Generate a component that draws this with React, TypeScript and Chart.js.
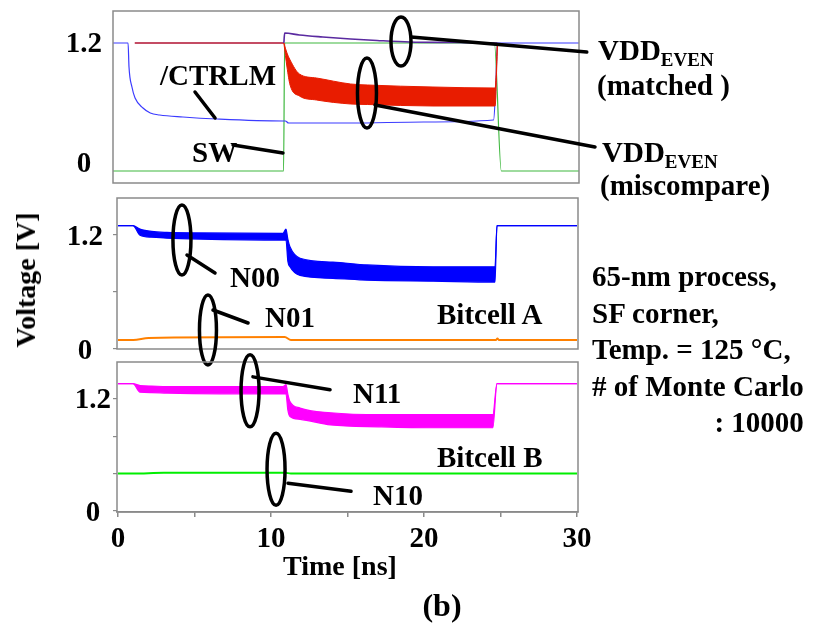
import React, { useEffect, useRef } from 'react';
import { Chart, registerables } from 'chart.js';

Chart.register(...registerables);

const FONT = "'Liberation Serif', 'Times New Roman', serif";

// ---------------- Data (time in ns, voltage in V) ----------------
// Top panel
const ctrlmT = [0, 0.97, 1.03, 1.22, 1.42, 1.93, 2.4, 3.0, 4.5, 6.7, 10.95, 11.1, 11.3, 15.3, 20, 24.5, 24.65, 24.75, 30];
const ctrlmV = [1.2, 1.2, 0.96, 0.76, 0.65, 0.55, 0.5, 0.48, 0.46, 0.44, 0.42, 0.42, 0.4, 0.4, 0.41, 0.43, 0.8, 1.2, 1.2];
const swT = [0, 10.98, 11.05, 24.55, 25.0, 30];
const swV = [-0.08, -0.08, 1.2, 1.2, -0.08, -0.08];
const matchedPreT = [1.4, 11.0];
const matchedPreV = [1.2, 1.2];
const matchedT = [11.0, 11.05, 12.0, 13.5, 15.3, 17.0, 19.1, 22.0, 24.5, 24.75];
const matchedV = [1.2, 1.3, 1.28, 1.26, 1.24, 1.225, 1.21, 1.205, 1.2, 1.2];
const missT = [11.0, 11.2, 11.4, 12.0, 13.1, 15.3, 16.4, 20.6, 24.6, 24.75];
const missUpV = [1.2, 1.1, 1.03, 0.89, 0.85, 0.79, 0.78, 0.76, 0.75, 1.2];
const missLoV = [1.2, 0.96, 0.78, 0.67, 0.63, 0.59, 0.585, 0.57, 0.57, 1.2];

// Middle panel (Bitcell A)
const n00T = [0, 0.98, 1.44, 2.2, 3.2, 5.36, 10.78, 10.98, 11.1, 11.24, 11.9, 14.05, 16.27, 20.6, 24.64, 24.77, 30];
const n00UpV = [1.29, 1.29, 1.255, 1.23, 1.22, 1.215, 1.21, 1.255, 1.15, 1.07, 0.95, 0.91, 0.88, 0.86, 0.86, 1.29, 1.29];
const n00LoV = [1.29, 1.29, 1.19, 1.17, 1.16, 1.15, 1.14, 1.14, 0.92, 0.86, 0.77, 0.74, 0.72, 0.71, 0.7, 1.29, 1.29];
const n01T = [0, 1.0, 2.0, 10.9, 11.3, 24.7, 24.8, 24.9, 30];
const n01V = [0.094, 0.094, 0.115, 0.125, 0.094, 0.094, 0.11, 0.094, 0.094];

// Bottom panel (Bitcell B)
const n11T = [0, 0.98, 1.44, 2.2, 3.2, 10.78, 10.98, 11.1, 11.24, 11.9, 13.9, 17.2, 20.6, 24.5, 24.77, 30];
const n11UpV = [1.36, 1.36, 1.34, 1.335, 1.33, 1.33, 1.35, 1.25, 1.17, 1.1, 1.05, 1.03, 1.03, 1.03, 1.36, 1.36];
const n11LoV = [1.36, 1.36, 1.27, 1.265, 1.26, 1.25, 1.25, 1.08, 1.01, 0.98, 0.92, 0.9, 0.89, 0.89, 1.36, 1.36];
const n10T = [0, 1.0, 3.0, 10.9, 11.3, 30];
const n10V = [0.4, 0.4, 0.41, 0.41, 0.4, 0.4];

// Axis ticks
const xTicks = [0, 5, 10, 15, 20, 25, 30];
const xLabeled = [0, 10, 20, 30];
const topYTicks = [0, 1.2];
const midYTicks = [0, 0.6, 1.2];
const botYTicks = [0, 0.4, 0.8, 1.2];
const yLabeled = [0, 1.2];

// Annotation anchors (data coordinates of each panel)
const topEllipses = [
  { t: 18.54, v: 1.215, rx: 10, ry: 24.5 },
  { t: 16.35, v: 0.7, rx: 9.5, ry: 35 },
];
const topLeaders = [
  [19.19, 1.26, 30.5, 1.11],
  [16.87, 0.58, 31.03, 0.16],
  [5.28, 0.71, 6.57, 0.45],
  [7.73, 0.18, 10.94, 0.1],
];
const midEllipses = [
  { t: 4.18, v: 1.14, rx: 9, ry: 35 },
  { t: 5.88, v: 0.2, rx: 8.5, ry: 35 },
];
const midLeaders = [
  [4.51, 0.983, 6.34, 0.795],
  [6.21, 0.408, 8.5, 0.272],
];
const botEllipses = [
  { t: 8.63, v: 1.284, rx: 9, ry: 36 },
  { t: 10.33, v: 0.446, rx: 9, ry: 36 },
];
const botLeaders = [
  [8.82, 1.433, 13.86, 1.295],
  [11.11, 0.297, 15.23, 0.212],
];

const pts = (t: number[], v: number[]) => t.map((x, i) => ({ x, y: v[i] }));

const line = (t: number[], v: number[], color: string, width = 1.2, extra: any = {}) => ({
  data: pts(t, v),
  borderColor: color,
  backgroundColor: color,
  borderWidth: width,
  pointRadius: 0,
  cubicInterpolationMode: 'monotone',
  fill: false,
  ...extra,
});

type PanelDef = {
  area: { l: number; t: number; r: number; b: number };
  xMin: number; xMax: number; yMin: number; yMax: number;
  yTicks: number[]; yTickLen: number; yPad: number; yLabelOffset: number;
  showX: boolean;
  datasets: any[];
  ellipses: { t: number; v: number; rx: number; ry: number }[];
  leaders: number[][];
};

const W = 820;
const H = 631;
const Y_AXIS_W = 70;
const X_AXIS_H = 45;

function PanelChart({ def }: { def: PanelDef }) {
  const ref = useRef<HTMLCanvasElement | null>(null);
  useEffect(() => {
    if (!ref.current) return;
    const d = def;
    const deco = {
      id: 'deco',
      afterDatasetsDraw(chart: any) {
        const { ctx, chartArea } = chart;
        const xs = chart.scales.x;
        const ys = chart.scales.y;
        ctx.save();
        ctx.strokeStyle = '#8a8a8a';
        ctx.lineWidth = 1.5;
        ctx.strokeRect(chartArea.left, chartArea.top, chartArea.right - chartArea.left, chartArea.bottom - chartArea.top);
        ctx.strokeStyle = '#000';
        ctx.lineWidth = 3.5;
        ctx.lineCap = 'round';
        d.ellipses.forEach((e) => {
          ctx.beginPath();
          ctx.ellipse(xs.getPixelForValue(e.t), ys.getPixelForValue(e.v), e.rx, e.ry, 0, 0, Math.PI * 2);
          ctx.stroke();
        });
        d.leaders.forEach((l) => {
          ctx.beginPath();
          ctx.moveTo(xs.getPixelForValue(l[0]), ys.getPixelForValue(l[1]));
          ctx.lineTo(xs.getPixelForValue(l[2]), ys.getPixelForValue(l[3]));
          ctx.stroke();
        });
        ctx.restore();
      },
    };
    const xH = d.showX ? X_AXIS_H : 0;
    const chart = new Chart(ref.current, {
      type: 'line',
      data: { datasets: d.datasets },
      options: {
        responsive: false,
        animation: false,
        devicePixelRatio: 1,
        layout: {
          padding: {
            left: d.area.l - Y_AXIS_W,
            right: W - d.area.r,
            top: d.area.t,
            bottom: H - d.area.b - xH,
          },
        },
        plugins: { legend: { display: false }, tooltip: { enabled: false }, title: { display: false } },
        scales: {
          x: {
            type: 'linear',
            display: d.showX,
            min: d.xMin,
            max: d.xMax,
            afterBuildTicks: (s: any) => { s.ticks = xTicks.map((value) => ({ value })); },
            afterFit: (s: any) => {
              s.height = d.showX ? X_AXIS_H : 0;
              s.paddingLeft = 0;
              s.paddingRight = 0;
            },
            grid: { drawOnChartArea: false, drawTicks: true, tickLength: 5, color: '#8a8a8a', lineWidth: 1.5 },
            border: { display: true, color: '#8a8a8a', width: 1.5 },
            ticks: {
              autoSkip: false,
              maxRotation: 0,
              padding: 5,
              color: '#000',
              font: { family: FONT, size: 29, weight: 'bold' },
              callback: (v: any) => (xLabeled.includes(Number(v)) ? String(v) : ''),
            },
          },
          y: {
            type: 'linear',
            min: d.yMin,
            max: d.yMax,
            afterBuildTicks: (s: any) => { s.ticks = d.yTicks.map((value) => ({ value })); },
            afterFit: (s: any) => {
              s.width = Y_AXIS_W;
              s.paddingTop = 0;
              s.paddingBottom = 0;
            },
            grid: {
              display: d.yTickLen > 0,
              drawOnChartArea: false,
              drawTicks: d.yTickLen > 0,
              tickLength: d.yTickLen,
              color: '#8a8a8a',
              lineWidth: 1.2,
            },
            border: { display: false },
            ticks: {
              padding: d.yPad,
              crossAlign: 'center',
              labelOffset: d.yLabelOffset,
              color: '#000',
              font: { family: FONT, size: 29, weight: 'bold' },
              callback: (v: any) => {
                const n = Number(v);
                if (yLabeled.some((q) => Math.abs(q - n) < 1e-6)) return n === 0 ? '0' : n.toFixed(1);
                return '';
              },
            },
          },
        },
      } as any,
      plugins: [deco],
    });
    return () => chart.destroy();
  }, [def]);
  return (
    <canvas
      ref={ref}
      width={W}
      height={H}
      style={{ position: 'absolute', left: 0, top: 0, width: W, height: H }}
    />
  );
}

const topDef: PanelDef = {
  area: { l: 113, t: 11, r: 579, b: 183 },
  xMin: 0, xMax: 30, yMin: -0.2, yMax: 1.52,
  yTicks: topYTicks, yTickLen: 0, yPad: 11, yLabelOffset: 2,
  showX: false,
  datasets: [
    line(missT, missUpV, '#e81c00', 1, { fill: '+1', backgroundColor: '#e81c00' }),
    line(missT, missLoV, '#e81c00', 1),
    line(ctrlmT, ctrlmV, '#3b3bff', 1.2),
    line(matchedT, matchedV, '#5a2aa0', 1.6),
    line(matchedPreT, matchedPreV, '#b01030', 1.4),
    line(swT, swV, '#3fb83f', 1.2),
  ],
  ellipses: topEllipses,
  leaders: topLeaders,
};

const midDef: PanelDef = {
  area: { l: 117, t: 198, r: 578, b: 349 },
  xMin: -0.065, xMax: 30.065, yMin: 0, yMax: 1.58,
  yTicks: midYTicks, yTickLen: 4, yPad: 10, yLabelOffset: 3,
  showX: false,
  datasets: [
    line(n00T, n00UpV, '#0000ff', 1.2, { fill: '+1', backgroundColor: '#0000ff' }),
    line(n00T, n00LoV, '#0000ff', 1.2),
    line(n01T, n01V, '#ff8000', 2),
  ],
  ellipses: midEllipses,
  leaders: midLeaders,
};

const botDef: PanelDef = {
  area: { l: 117, t: 362, r: 578, b: 512 },
  xMin: -0.065, xMax: 30.065, yMin: -0.01, yMax: 1.592,
  yTicks: botYTicks, yTickLen: 4, yPad: 2, yLabelOffset: 2,
  showX: true,
  datasets: [
    line(n11T, n11UpV, '#ff00ff', 1.2, { fill: '+1', backgroundColor: '#ff00ff' }),
    line(n11T, n11LoV, '#ff00ff', 1.2),
    line(n10T, n10V, '#00ee00', 2),
  ],
  ellipses: botEllipses,
  leaders: botLeaders,
};

function Txt({ x, cy, size = 29, children, style }: { x: number; cy: number; size?: number; children: any; style?: any }) {
  return (
    <div
      style={{
        position: 'absolute',
        left: x,
        top: cy - size / 2,
        fontFamily: FONT,
        fontWeight: 'bold',
        fontSize: size,
        lineHeight: `${size}px`,
        whiteSpace: 'nowrap',
        color: '#000',
        ...style,
      }}
    >
      {children}
    </div>
  );
}

const sub = { fontSize: 19, position: 'relative' as const, top: 6 };

export default function App() {
  return (
    <div style={{ position: 'absolute', left: 0, top: 0, width: W, height: H, background: '#fff', overflow: 'hidden' }}>
      <PanelChart def={topDef} />
      <PanelChart def={midDef} />
      <PanelChart def={botDef} />

      <Txt x={160} cy={75}>/CTRLM</Txt>
      <Txt x={192} cy={152}>SW</Txt>
      <Txt x={598} cy={50}>VDD<span style={sub}>EVEN</span></Txt>
      <Txt x={597} cy={85}>(matched )</Txt>
      <Txt x={602} cy={152}>VDD<span style={sub}>EVEN</span></Txt>
      <Txt x={600} cy={185}>(miscompare)</Txt>

      <Txt x={230} cy={277}>N00</Txt>
      <Txt x={265} cy={317}>N01</Txt>
      <Txt x={437} cy={314}>Bitcell A</Txt>
      <Txt x={353} cy={393}>N11</Txt>
      <Txt x={437} cy={457}>Bitcell B</Txt>
      <Txt x={373} cy={495}>N10</Txt>

      <div
        style={{
          position: 'absolute',
          left: 592,
          top: 276 - 18,
          fontFamily: FONT,
          fontWeight: 'bold',
          fontSize: 29,
          lineHeight: '36.6px',
          whiteSpace: 'nowrap',
          color: '#000',
        }}
      >
        <div>65-nm process,</div>
        <div>SF corner,</div>
        <div>Temp. = 125 °C,</div>
        <div># of Monte Carlo</div>
        <div style={{ textAlign: 'right' }}>: 10000</div>
      </div>

      <div
        style={{
          position: 'absolute',
          left: 26,
          top: 280,
          transform: 'translate(-50%, -50%) rotate(-90deg)',
          fontFamily: FONT,
          fontWeight: 'bold',
          fontSize: 28,
          lineHeight: '28px',
          whiteSpace: 'nowrap',
        }}
      >
        Voltage [V]
      </div>
      <div
        style={{
          position: 'absolute',
          left: 340,
          top: 566,
          transform: 'translate(-50%, -50%)',
          fontFamily: FONT,
          fontWeight: 'bold',
          fontSize: 28,
          lineHeight: '28px',
          whiteSpace: 'nowrap',
        }}
      >
        Time [ns]
      </div>
      <div
        style={{
          position: 'absolute',
          left: 442,
          top: 605,
          transform: 'translate(-50%, -50%)',
          fontFamily: FONT,
          fontWeight: 'bold',
          fontSize: 32,
          lineHeight: '32px',
          whiteSpace: 'nowrap',
        }}
      >
        (b)
      </div>
    </div>
  );
}
